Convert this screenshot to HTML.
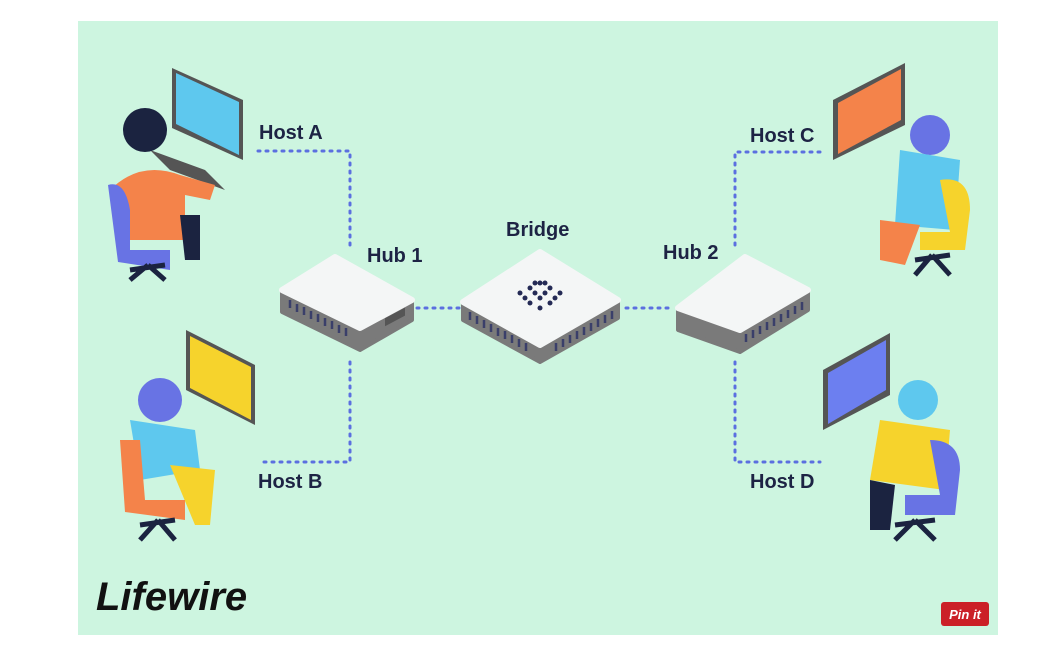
<!DOCTYPE html>
<html><head><style>
body{margin:0;background:#fff;width:1056px;height:650px;overflow:hidden}
svg{display:block}
text{font-family:"Liberation Sans",sans-serif;font-weight:bold;fill:#1d2344}
</style></head><body>
<svg width="1056" height="650" viewBox="0 0 1056 650">
<rect x="78" y="21" width="920" height="614" fill="#cdf5e0"/>
<g stroke="#5b6fe0" stroke-width="3" stroke-dasharray="2 6" fill="none" stroke-linecap="round">
<path d="M258 151H350V250"/><path d="M350 362V462H258"/>
<path d="M417 308H460"/><path d="M626 308H672"/>
<path d="M820 152H735V250"/><path d="M735 362V462H820"/>
</g>
<text x="259" y="139" font-size="20">Host A</text>
<text x="367" y="262" font-size="20">Hub 1</text>
<text x="506" y="236" font-size="20">Bridge</text>
<text x="663" y="259" font-size="20">Hub 2</text>
<text x="750" y="142" font-size="20">Host C</text>
<text x="258" y="488" font-size="20">Host B</text>
<text x="750" y="488" font-size="20">Host D</text>
<!-- Hub1 -->
<polygon points="282,290 360,328 412,300 412,320 360,350 282,312" fill="#7a7a7a" stroke="#7a7a7a" stroke-width="4" stroke-linejoin="round"/>
<polygon points="282,290 335,257 412,300 360,328" fill="#f4f6f6" stroke="#f4f6f6" stroke-width="6" stroke-linejoin="round"/>
<g stroke="#3a3f6a" stroke-width="2.5">
<path d="M290 300v8M297 304v8M304 307v8M311 311v8M318 314v8M325 318v8M332 321v8M339 325v8M346 328v8"/></g>
<rect x="385" y="318" width="20" height="8" fill="#555" transform="skewY(-28) translate(0,205)"/>
<!-- Bridge -->
<polygon points="463,302 540,345 618,300 618,318 540,362 463,320" fill="#7a7a7a" stroke="#7a7a7a" stroke-width="4" stroke-linejoin="round"/>
<polygon points="463,302 540,252 618,300 540,345" fill="#f4f6f6" stroke="#f4f6f6" stroke-width="6" stroke-linejoin="round"/>
<g stroke="#3a3f6a" stroke-width="2.5">
<path d="M470 312v8M477 316v8M484 320v8M491 324v8M498 328v8M505 331v8M512 335v8M519 339v8M526 343v8"/>
<path d="M556 343v8M563 339v8M570 335v8M577 331v8M584 327v8M591 323v8M598 319v8M605 315v8M612 311v8"/></g>
<g fill="#242a55">
<circle cx="520" cy="293" r="2.5"/><circle cx="530" cy="288" r="2.5"/><circle cx="540" cy="283" r="2.5"/><circle cx="550" cy="288" r="2.5"/><circle cx="560" cy="293" r="2.5"/>
<circle cx="525" cy="298" r="2.5"/><circle cx="535" cy="293" r="2.5"/><circle cx="545" cy="293" r="2.5"/><circle cx="555" cy="298" r="2.5"/>
<circle cx="530" cy="303" r="2.5"/><circle cx="540" cy="298" r="2.5"/><circle cx="550" cy="303" r="2.5"/>
<circle cx="540" cy="308" r="2.5"/><circle cx="535" cy="283" r="2.5"/><circle cx="545" cy="283" r="2.5"/>
</g>
<!-- Hub2 -->
<polygon points="678,308 740,330 808,290 808,310 740,352 678,330" fill="#7a7a7a" stroke="#7a7a7a" stroke-width="4" stroke-linejoin="round"/>
<polygon points="678,308 745,257 808,290 740,330" fill="#f4f6f6" stroke="#f4f6f6" stroke-width="6" stroke-linejoin="round"/>
<g stroke="#3a3f6a" stroke-width="2.5">
<path d="M746 334v8M753 330v8M760 326v8M767 322v8M774 318v8M781 314v8M788 310v8M795 306v8M802 302v8"/></g>
<!-- Host A person -->
<polygon points="172,68 243,100 243,160 172,128" fill="#555"/>
<polygon points="176,73 239,102 239,155 176,124" fill="#5ec8ee"/>
<polygon points="150,150 205,170 225,190 170,170" fill="#555"/>
<path d="M110 190 Q140 160 180 175 L215 185 L210 200 L185 195 L185 240 L130 240 Z" fill="#f4834a"/>
<circle cx="145" cy="130" r="22" fill="#1b2340"/>
<path d="M180 215 L200 215 L200 260 L185 260 Z" fill="#1b2340"/>
<path d="M108 185 Q125 180 130 210 L130 250 L170 250 L170 270 L118 262 Z" fill="#6873e4"/>
<path d="M130 270 L165 265 M148 265 L130 280 M148 265 L165 280" stroke="#1b2340" stroke-width="5"/>
<!-- Host B -->
<polygon points="186,330 255,365 255,425 186,390" fill="#555"/>
<polygon points="190,336 251,367 251,420 190,388" fill="#f6d32c"/>
<circle cx="160" cy="400" r="22" fill="#6873e4"/>
<path d="M130 420 L195 430 L200 470 L140 480 Z" fill="#5ec8ee"/>
<path d="M170 465 L215 470 L210 525 L195 525 Z" fill="#f6d32c"/>
<path d="M120 440 L140 440 L145 500 L185 500 L185 520 L125 512 Z" fill="#f4834a"/>
<path d="M140 525 L175 520 M158 520 L140 540 M158 520 L175 540" stroke="#1b2340" stroke-width="5"/>
<!-- Host C -->
<polygon points="833,100 905,63 905,125 833,160" fill="#555"/>
<polygon points="838,103 901,69 901,120 838,154" fill="#f4834a"/>
<circle cx="930" cy="135" r="20" fill="#6873e4"/>
<path d="M900 150 L960 160 L955 230 L895 225 Z" fill="#5ec8ee"/>
<path d="M880 220 L920 225 L905 265 L880 260 Z" fill="#f4834a"/>
<path d="M940 180 Q970 175 970 210 L965 250 L920 250 L920 232 L950 232 Z" fill="#f6d32c"/>
<path d="M915 260 L950 255 M932 255 L915 275 M932 255 L950 275" stroke="#1b2340" stroke-width="5"/>
<!-- Host D -->
<polygon points="823,370 890,333 890,395 823,430" fill="#555"/>
<polygon points="828,373 886,340 886,390 828,424" fill="#6c7ff0"/>
<circle cx="918" cy="400" r="20" fill="#5ec8ee"/>
<path d="M880 420 L950 430 L945 490 L870 480 Z" fill="#f6d32c"/>
<path d="M870 480 L895 485 L890 530 L870 530 Z" fill="#1b2340"/>
<path d="M930 440 Q960 440 960 470 L955 515 L905 515 L905 495 L940 495 Z" fill="#6873e4"/>
<path d="M895 525 L935 520 M915 520 L895 540 M915 520 L935 540" stroke="#1b2340" stroke-width="5"/>
<text x="96" y="610" font-size="40" font-style="italic" style="fill:#111">Lifewire</text>
<rect x="941" y="602" width="48" height="24" rx="3" fill="#cb2027"/>
<text x="965" y="619" font-size="13" text-anchor="middle" style="fill:#fff;font-style:italic">Pin it</text>
</svg>
</body></html>
